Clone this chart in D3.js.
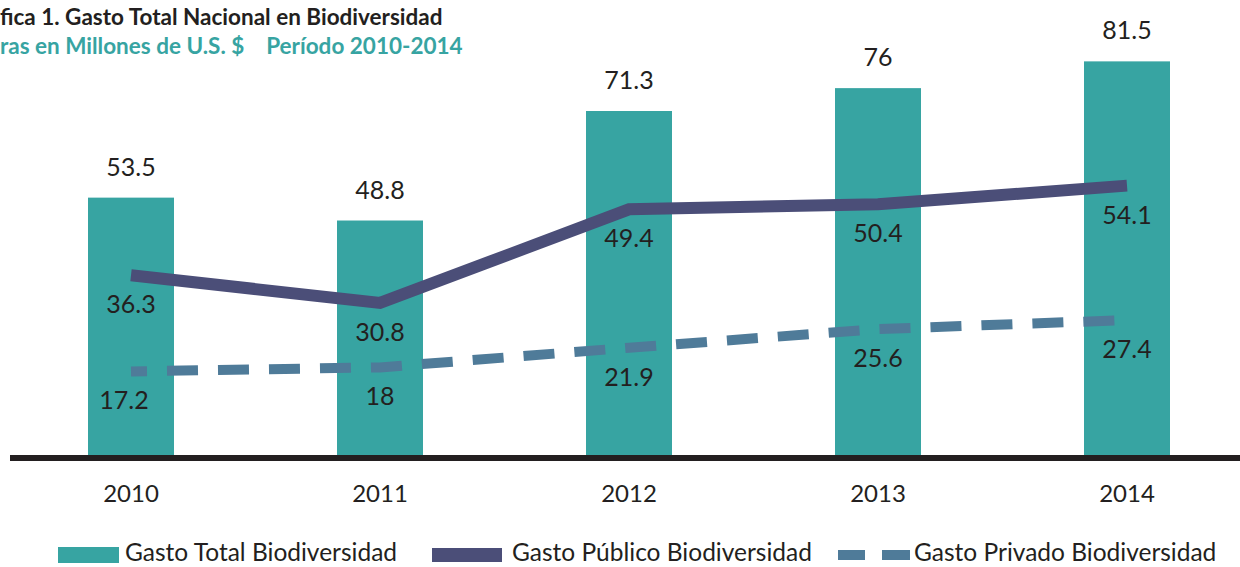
<!DOCTYPE html>
<html>
<head>
<meta charset="utf-8">
<script src="https://cdn.jsdelivr.net/npm/d3@7"></script>
<style>
  body { margin: 0; background: #fff; }
  svg { display: block; font-family: Lato, "Open Sans", sans-serif; }
</style>
</head>
<body>
<div id="chart"></div>
<script>
// Gasto en biodiversidad, millones de U.S. $
const years = ["2010", "2011", "2012", "2013", "2014"];
const totalValues = [53.5, 48.8, 71.3, 76, 81.5];
const publicValues = [36.3, 30.8, 49.4, 50.4, 54.1];
const privateValues = [17.2, 18, 21.9, 25.6, 27.4];
const seriesNames = ["Gasto Total Biodiversidad", "Gasto Público Biodiversidad", "Gasto Privado Biodiversidad"];

const width = 1240, height = 567;
const teal = "#37a4a2", navy = "#4b4e78", steel = "#4f7b99", ink = "#231f20";

const svg = d3.select("#chart")
    .append("svg")
    .attr("width", width)
    .attr("height", height);

// x positions (bar centres)
const x = d3.scalePoint()
    .domain(years)
    .range([131, 1127]);
const barWidth = 86;

// bars and lines don't share a scale in the original
const y = d3.scaleLinear().domain([0, 90]).range([458, 20]);
const yLine = d3.scaleLinear().domain([0, 87]).range([458, 20]);

// title
svg.append("text")
    .attr("x", 0)
    .attr("y", 25)
    .attr("font-size", 22.5)
    .attr("font-weight", "bold")
    .attr("fill", ink)
    .text("fica 1. Gasto Total Nacional en Biodiversidad");

svg.append("text")
    .attr("x", 0)
    .attr("y", 54)
    .attr("font-size", 22.5)
    .attr("font-weight", "bold")
    .attr("fill", teal)
    .attr("xml:space", "preserve")
    .text("ras en Millones de U.S. $    Período 2010-2014");

// bars
svg.append("g")
    .selectAll("rect")
    .data(totalValues)
    .join("rect")
    .attr("x", (d, i) => x(years[i]) - barWidth / 2)
    .attr("y", d => y(d))
    .attr("width", barWidth)
    .attr("height", d => y(0) - y(d))
    .attr("fill", teal);

// baseline
svg.append("line")
    .attr("x1", 10)
    .attr("x2", width)
    .attr("y1", y(0))
    .attr("y2", y(0))
    .attr("stroke", ink)
    .attr("stroke-width", 6);

// year labels
svg.append("g")
    .selectAll("text")
    .data(years)
    .join("text")
    .attr("x", d => x(d))
    .attr("y", 502)
    .attr("text-anchor", "middle")
    .attr("font-size", 24)
    .attr("fill", ink)
    .text(d => d);

const line = d3.line()
    .x((d, i) => x(years[i]))
    .y(d => yLine(d));

// private (dashed)
svg.append("path")
    .datum(privateValues)
    .attr("d", line)
    .attr("fill", "none")
    .attr("stroke", steel)
    .attr("stroke-width", 10)
    .attr("stroke-dasharray", "31,20")
    .attr("stroke-dashoffset", 15);

// public
svg.append("path")
    .datum(publicValues)
    .attr("d", line)
    .attr("fill", "none")
    .attr("stroke", navy)
    .attr("stroke-width", 12)
    .attr("stroke-linejoin", "miter");

// value labels
svg.append("g")
    .selectAll("text")
    .data(totalValues)
    .join("text")
    .attr("x", (d, i) => x(years[i]))
    .attr("y", d => y(d) - 22)
    .attr("text-anchor", "middle")
    .attr("font-size", 25)
    .attr("fill", ink)
    .text(d => d);

svg.append("g")
    .selectAll("text")
    .data(publicValues)
    .join("text")
    .attr("x", (d, i) => x(years[i]))
    .attr("y", d => yLine(d) + 38)
    .attr("text-anchor", "middle")
    .attr("font-size", 25)
    .attr("fill", ink)
    .text(d => d);

svg.append("g")
    .selectAll("text")
    .data(privateValues)
    .join("text")
    .attr("x", (d, i) => x(years[i]) - (i === 0 ? 7 : 0))
    .attr("y", d => yLine(d) + 38)
    .attr("text-anchor", "middle")
    .attr("font-size", 25)
    .attr("fill", ink)
    .text(d => d);

// legend
const legend = svg.append("g");
legend.append("rect")
    .attr("x", 58).attr("y", 547)
    .attr("width", 61).attr("height", 16)
    .attr("fill", teal);
legend.append("rect")
    .attr("x", 432).attr("y", 548)
    .attr("width", 70).attr("height", 14)
    .attr("fill", navy);
legend.append("rect")
    .attr("x", 838).attr("y", 550)
    .attr("width", 27).attr("height", 10)
    .attr("fill", steel);
legend.append("rect")
    .attr("x", 882).attr("y", 550)
    .attr("width", 28).attr("height", 10)
    .attr("fill", steel);

legend.selectAll("text")
    .data(seriesNames)
    .join("text")
    .attr("x", (d, i) => [125, 512, 914][i])
    .attr("y", 561)
    .attr("font-size", 24.5)
    .attr("fill", ink)
    .text(d => d);
</script>
</body>
</html>
